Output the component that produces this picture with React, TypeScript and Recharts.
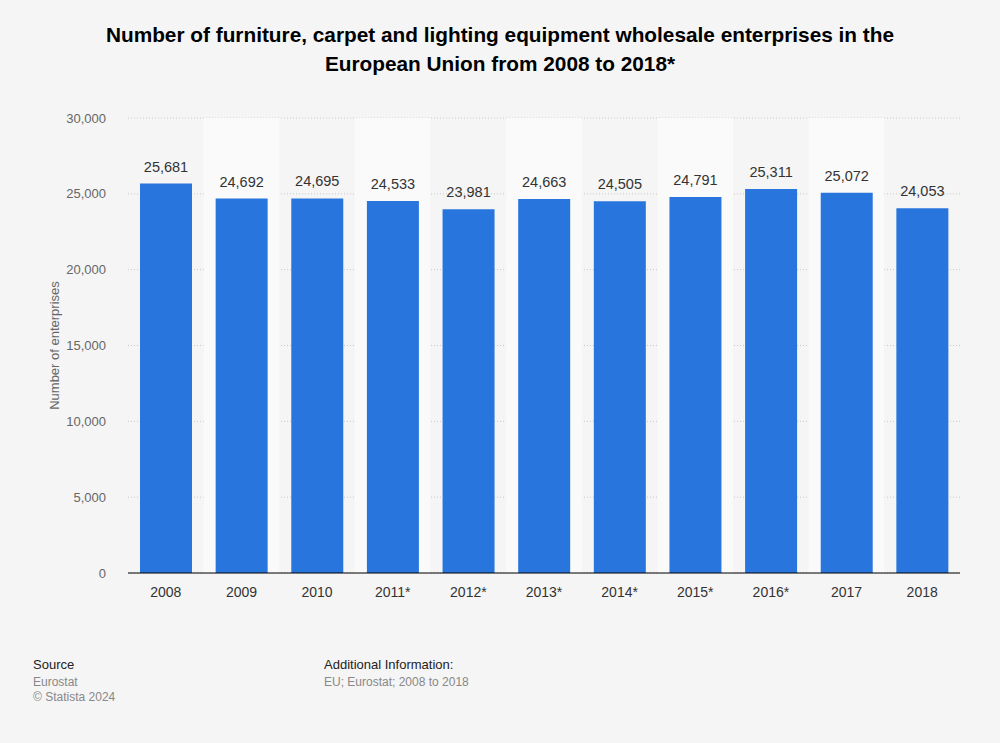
import React from "react";
import { BarChart, Bar, XAxis, YAxis, CartesianGrid, LabelList, ReferenceArea } from "recharts";

const categories = ["2008", "2009", "2010", "2011*", "2012*", "2013*", "2014*", "2015*", "2016*", "2017", "2018"];
const values = [25681, 24692, 24695, 24533, 23981, 24663, 24505, 24791, 25311, 25072, 24053];
const yTicks = [0, 5000, 10000, 15000, 20000, 25000, 30000];

const data = categories.map((c, i) => ({ year: c, value: values[i] }));
const fmt = (v: number) => v.toLocaleString("en-US");
const FONT = "'Liberation Sans', Arial, Helvetica, sans-serif";

export default function App() {
  return (
    <div style={{ position: "absolute", left: 0, top: 0, width: 1000, height: 743, background: "#f5f5f5", fontFamily: FONT, overflow: "hidden" }}>
      <div style={{ position: "absolute", top: 20, left: 0, width: 1000, textAlign: "center", fontWeight: "bold", fontSize: 20.8, lineHeight: "29px", color: "#000" }}>
        Number of furniture, carpet and lighting equipment wholesale enterprises in the
        <br />
        European Union from 2008 to 2018*
      </div>
      <div style={{ position: "absolute", left: 0, top: 0 }}>
        <BarChart width={1000} height={620} data={data} margin={{ top: 118, right: 40, bottom: 17, left: 68 }} barCategoryGap={0}>
          {categories.map((c, i) =>
            i % 2 === 1 ? (
              <ReferenceArea key={c} x1={c} x2={c} y1={0} y2={30000} fill="#fafafa" fillOpacity={1} stroke="none" ifOverflow="visible" />
            ) : null
          )}
          <CartesianGrid vertical={false} stroke="#c8c8c8" strokeDasharray="1 2" />
          <XAxis
            dataKey="year"
            height={30}
            tickLine={false}
            axisLine={{ stroke: "#000", strokeWidth: 1 }}
            tick={{ fill: "#333", fontSize: 14, fontFamily: FONT }}
            tickMargin={8}
            interval={0}
          />
          <YAxis
            width={60}
            domain={[0, 30000]}
            ticks={yTicks}
            tickFormatter={fmt}
            axisLine={false}
            tickLine={false}
            tick={{ fill: "#666", fontSize: 13, fontFamily: FONT }}
            tickMargin={16}
            label={{ value: "Number of enterprises", angle: -90, position: "insideLeft", offset: -14, dy: 0, style: { textAnchor: "middle", fill: "#666", fontSize: 13, fontFamily: FONT } }}
          />
          <Bar dataKey="value" fill="#2876dd" barSize={52} isAnimationActive={false}>
            <LabelList dataKey="value" position="top" offset={12} formatter={(v: any) => fmt(Number(v))} style={{ fill: "#333", fontSize: 14.5, fontFamily: FONT }} />
          </Bar>
        </BarChart>
      </div>
      <div style={{ position: "absolute", left: 33, top: 657, fontSize: 13, color: "#222" }}>Source</div>
      <div style={{ position: "absolute", left: 33, top: 675, fontSize: 12, color: "#888", lineHeight: "15px" }}>
        Eurostat
        <br />© Statista 2024
      </div>
      <div style={{ position: "absolute", left: 324, top: 657, fontSize: 13, color: "#222" }}>Additional Information:</div>
      <div style={{ position: "absolute", left: 324, top: 675, fontSize: 12, color: "#888" }}>EU; Eurostat; 2008 to 2018</div>
    </div>
  );
}
